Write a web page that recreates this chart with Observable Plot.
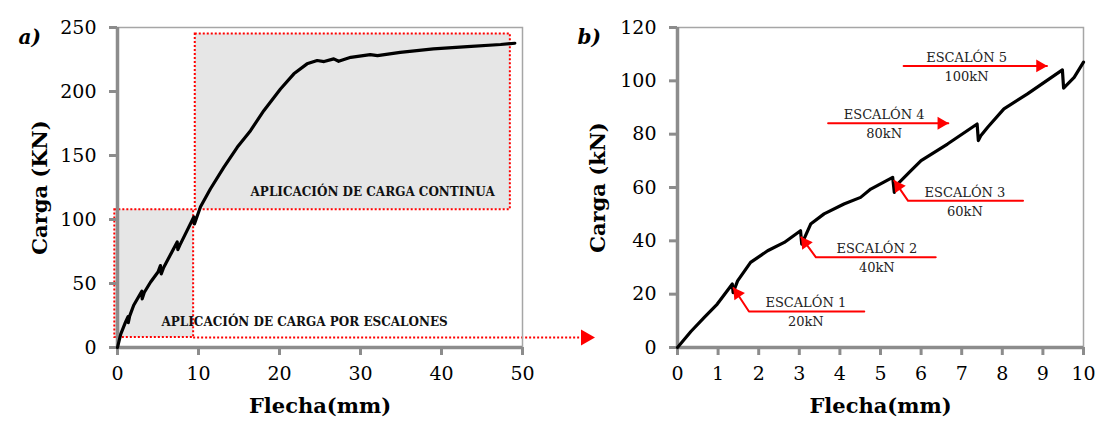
<!DOCTYPE html>
<html>
<head>
<meta charset="utf-8">
<script src="https://cdn.jsdelivr.net/npm/d3@7"></script>
<script src="https://cdn.jsdelivr.net/npm/@observablehq/plot@0.6"></script>
<style>
  body { margin: 0; background: white; }
  #wrap { position: relative; width: 1099px; height: 421px; overflow: hidden; background: white; }
  #wrap > svg, #wrap > figure { position: absolute; top: 0; margin: 0; }
</style>
</head>
<body>
<div id="wrap"></div>
<script>
// ---------- Panel a data ----------
const aFlecha = [0, 0.4, 1.0, 1.3, 1.33, 1.5, 2.0, 2.5, 3.0, 3.05, 3.3, 4.07, 5.0, 5.3, 5.4, 5.7, 6.5, 7.37, 7.45, 7.7, 8.6, 9.42, 9.5, 9.8, 10.25, 11.48, 13.12, 14.78, 16.42, 18.06, 20.12, 21.77, 23.4, 24.65, 25.5, 26.7, 27.3, 28.8, 31.2, 32.1, 34.9, 39.0, 43.2, 47.3, 49.05];
const aCarga  = [0, 10.5, 20, 24, 19.5, 24.5, 33, 38.5, 44, 38, 43, 51, 59, 64, 57.5, 62.5, 72, 82.5, 76.5, 80, 91.5, 102, 96.5, 102, 110, 124, 140.7, 156.4, 169.4, 185, 202, 213.8, 221.6, 224.2, 223.4, 225.5, 223.6, 226.7, 228.8, 228, 230.6, 233.3, 235, 236.7, 237.7];
const aXTicks = [0, 10, 20, 30, 40, 50];
const aYTicks = [0, 50, 100, 150, 200, 250];
// shaded zones
const zoneNames = ["escalones", "continua"];
const zoneX1 = [-0.33, 9.6];
const zoneX2 = [9.4, 48.5];
const zoneY1 = [7.8, 107.7];
const zoneY2 = [107.7, 245];
const zoneLabels = ["APLICACIÓN DE CARGA POR ESCALONES", "APLICACIÓN DE CARGA CONTINUA"];
const zoneLabelX = [23.1, 31.5];
const zoneLabelY = [20.1, 121];
const arrowA = {x1: 9.4, x2: 57.8, y: 7.8};

// ---------- Panel b data ----------
const bFlecha = [0, 0.33, 0.66, 0.98, 1.35, 1.37, 1.48, 1.8, 2.22, 2.63, 3.03, 3.06, 3.28, 3.61, 4.1, 4.51, 4.76, 5.3, 5.34, 5.42, 5.75, 6.0, 6.65, 7.38, 7.41, 7.47, 7.64, 8.04, 8.62, 9.48, 9.51, 9.77, 10.0];
const bCarga  = [0, 6, 11.3, 16.3, 23.8, 20.6, 25, 31.9, 36.3, 39.4, 43.8, 38.8, 46.3, 50.1, 53.8, 56.3, 59.4, 63.8, 58.2, 61.3, 66.3, 70.1, 76.3, 83.8, 77.6, 79.4, 82.6, 89.5, 95.1, 104.1, 97.3, 101.3, 107];
const bXTicks = [0, 1, 2, 3, 4, 5, 6, 7, 8, 9, 10];
const bYTicks = [0, 20, 40, 60, 80, 100, 120];
const escNames = ["ESCALÓN 1", "ESCALÓN 2", "ESCALÓN 3", "ESCALÓN 4", "ESCALÓN 5"];
const escLoads = ["20kN", "40kN", "60kN", "80kN", "100kN"];
const escTextX = [3.16, 4.91, 7.08, 5.09, 7.12];
const escLineY = [13.5, 33.8, 55.0, 84.1, 105.6];
// callout polylines (tip first for diagonal ones)
const calloutX = [[1.38, 1.76, 4.6], [3.05, 3.41, 6.36], [5.34, 5.68, 8.51], [3.71, 6.67], [5.57, 9.1]];
const calloutY = [[22.3, 13.5, 13.5], [41.3, 33.8, 33.8], [62.5, 55.0, 55.0], [84.1, 84.1], [105.6, 105.6]];
const diagTipX = [1.38, 3.05, 5.34];
const diagTipY = [22.3, 41.3, 62.5];
const horizTipX = [6.67, 9.1];
const horizTipY = [84.1, 105.6];

const AXIS = "#8c8c8c";
const FRAME = "#a6a6a6";
const FONT = "'DejaVu Serif', serif";

const baseStyle = {fontFamily: FONT, fontSize: "19px", background: "transparent", overflow: "visible", color: "black"};

function axes(xt, yt) {
  return [
    Plot.frame({stroke: FRAME, strokeWidth: 1.5}),
    Plot.ruleX([xt[0]], {stroke: AXIS, strokeWidth: 3.5}),
    Plot.ruleY([yt[0]], {stroke: AXIS, strokeWidth: 3.5}),
    Plot.axisY({ticks: yt, tickSize: 8, tickPadding: 13, stroke: AXIS, strokeWidth: 3, label: null, fill: "black"}),
    Plot.axisX({ticks: xt, tickSize: 8, tickPadding: 11, stroke: AXIS, strokeWidth: 3, label: null, fill: "black"})
  ];
}

// ---------- Panel a ----------
const curveA = aFlecha.map((x, i) => ({x, y: aCarga[i]}));
const zones = zoneNames.map((n, i) => ({n, x1: zoneX1[i], x2: zoneX2[i], y1: zoneY1[i], y2: zoneY2[i], label: zoneLabels[i], lx: zoneLabelX[i], ly: zoneLabelY[i]}));

const plotA = Plot.plot({
  width: 620, height: 421,
  marginLeft: 117, marginRight: 98, marginTop: 27, marginBottom: 74,
  x: {domain: [0, 50]},
  y: {domain: [0, 250]},
  style: baseStyle,
  marks: [
    Plot.rect(zones, {x1: "x1", x2: "x2", y1: "y1", y2: "y2", fill: "#e6e6e6", stroke: "#ff0000", strokeWidth: 2, strokeDasharray: "2,2"}),
    Plot.ruleY([arrowA], {x1: d => d.x1, x2: d => d.x2, y: d => d.y, stroke: "#ff0000", strokeWidth: 2, strokeDasharray: "2,2"}),
    Plot.dot([arrowA], {x: d => d.x2, y: d => d.y, symbol: "triangle", rotate: 90, r: 6, fill: "#ff0000", stroke: "none"}),
    ...axes(aXTicks, aYTicks),
    Plot.line(curveA, {x: "x", y: "y", stroke: "black", strokeWidth: 3.2, strokeLinejoin: "round", strokeLinecap: "round"}),
    Plot.text(zones, {x: "lx", y: "ly", text: "label", fontWeight: "bold", fontSize: 12, fill: "#111"}),
    Plot.text(["Carga (KN)"], {frameAnchor: "left", textAnchor: "middle", dx: -77, rotate: -90, fontWeight: "bold", fontSize: 21}),
    Plot.text(["Flecha(mm)"], {frameAnchor: "bottom", textAnchor: "middle", dy: 65, fontWeight: "bold", fontSize: 21}),
    Plot.text(["a)"], {frameAnchor: "top-left", dx: -99, dy: 2, fontWeight: "bold", fontStyle: "italic", fontSize: 20})
  ]
});

// ---------- Panel b ----------
const curveB = bFlecha.map((x, i) => ({x, y: bCarga[i]}));
const callouts = [];
calloutX.forEach((xs, k) => xs.forEach((x, j) => callouts.push({k, x, y: calloutY[k][j]})));
const escs = escNames.map((n, i) => ({n, load: escLoads[i], x: escTextX[i], y: escLineY[i]}));
const diagTips = diagTipX.map((x, i) => ({x, y: diagTipY[i]}));
const horizTips = horizTipX.map((x, i) => ({x, y: horizTipY[i]}));

const plotB = Plot.plot({
  width: 549, height: 421,
  marginLeft: 127, marginRight: 16, marginTop: 27, marginBottom: 74,
  x: {domain: [0, 10]},
  y: {domain: [0, 120]},
  style: baseStyle,
  marks: [
    ...axes(bXTicks, bYTicks),
    Plot.line(curveB, {x: "x", y: "y", stroke: "black", strokeWidth: 3.2, strokeLinejoin: "round", strokeLinecap: "round"}),
    Plot.line(callouts, {x: "x", y: "y", z: "k", stroke: "#ff0000", strokeWidth: 2}),
    Plot.dot(diagTips, {x: "x", y: "y", symbol: "triangle", rotate: -35, r: 4.8, fill: "#ff0000", stroke: "none", dx: 4, dy: 5.5}),
    Plot.dot(horizTips, {x: "x", y: "y", symbol: "triangle", rotate: 90, r: 4.8, fill: "#ff0000", stroke: "none", dx: -7}),
    Plot.text(escs, {x: "x", y: "y", text: "n", dy: -8.5, fontSize: 13, fill: "#222"}),
    Plot.text(escs, {x: "x", y: "y", text: "load", dy: 10.5, fontSize: 13, fill: "#222"}),
    Plot.text(["Carga (kN)"], {frameAnchor: "left", textAnchor: "middle", dx: -79, rotate: -90, fontWeight: "bold", fontSize: 21}),
    Plot.text(["Flecha(mm)"], {frameAnchor: "bottom", textAnchor: "middle", dy: 65, fontWeight: "bold", fontSize: 21}),
    Plot.text(["b)"], {frameAnchor: "top-left", dx: -100, dy: 2, fontWeight: "bold", fontStyle: "italic", fontSize: 20})
  ]
});

const wrap = document.getElementById("wrap");
plotA.style.left = "0px";
plotB.style.left = "550px";
wrap.appendChild(plotA);
wrap.appendChild(plotB);
</script>
</body>
</html>
